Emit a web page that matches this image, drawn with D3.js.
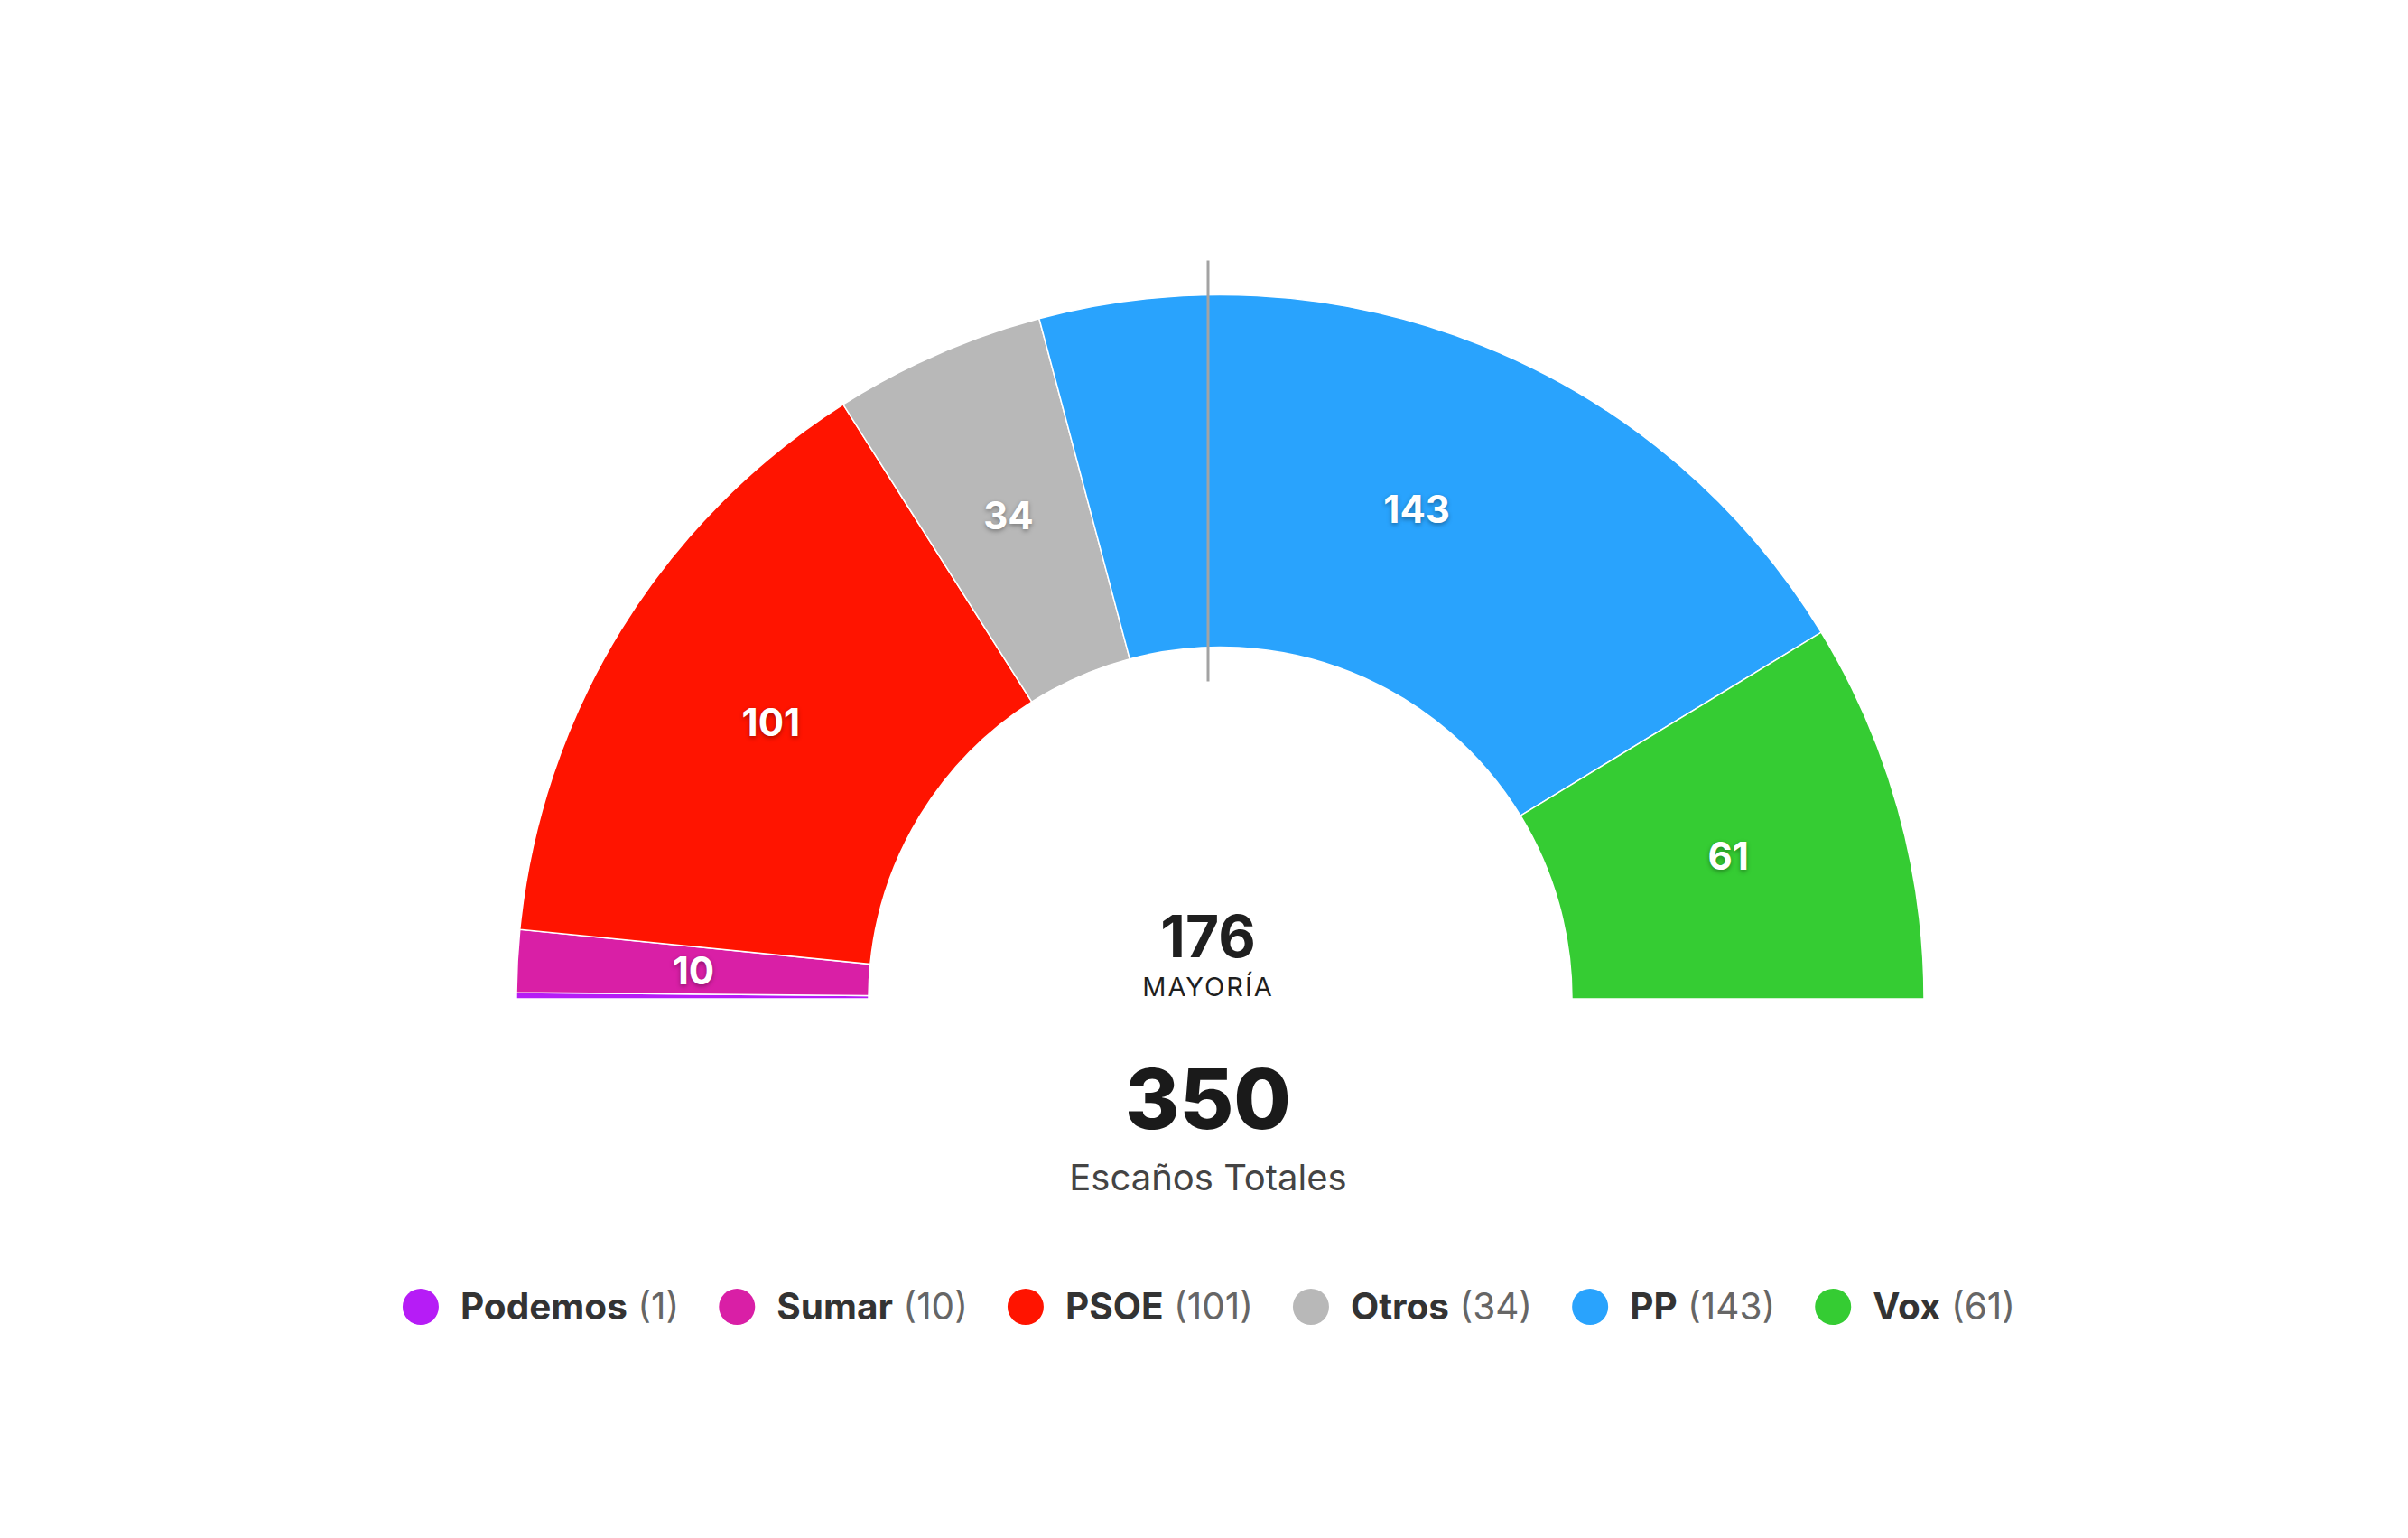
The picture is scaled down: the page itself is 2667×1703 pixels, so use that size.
<!DOCTYPE html>
<html>
<head>
<meta charset="utf-8">
<script src="https://cdn.jsdelivr.net/npm/d3@7"></script>
<style>
  html, body { margin: 0; padding: 0; background: #fff; }
  svg { display: block; font-family: Inter, "Noto Sans", sans-serif; }
  .slice-label { text-shadow: 0 2px 5px rgba(0,0,0,0.35); }
</style>
</head>
<body>
<div id="wrapper"></div>
<script>
const parties = ["Podemos", "Sumar", "PSOE", "Otros", "PP", "Vox"]
const seats = [1, 10, 101, 34, 143, 61]
const colors = ["#b61cf6", "#d91fa6", "#ff1400", "#b8b8b8", "#29a3fd", "#35cc33"]
const majority = 176
const majorityLabel = "MAYORÍA"
const totalLabel = "Escaños Totales"

function drawHemicycle() {
    const dataset = parties.map((name, i) => ({ name, seats: seats[i], color: colors[i] }))
    const total = d3.sum(seats)

    let dimensions = {
        width: 2667,
        height: 1703,
        cx: 1351.5,
        cy: 1106,
        innerRadius: 389.5,
        outerRadius: 779.5,
    }
    // texto central y línea de mayoría algo a la izquierda del centro del arco
    const textX = dimensions.cx - 13.5

    const wrapper = d3.select("#wrapper")
        .append("svg")
        .attr("width", dimensions.width)
        .attr("height", dimensions.height)

    const bounds = wrapper.append("g")
        .attr("transform", `translate(${dimensions.cx}, ${dimensions.cy})`)

    // semicírculo
    const pie = d3.pie()
        .sort(null)
        .value(d => d.seats)
        .startAngle(-Math.PI / 2)
        .endAngle(Math.PI / 2)

    const arcGenerator = d3.arc()
        .innerRadius(dimensions.innerRadius)
        .outerRadius(dimensions.outerRadius)

    const arcs = pie(dataset)

    bounds.selectAll("path.slice")
        .data(arcs)
        .join("path")
        .attr("class", "slice")
        .attr("d", arcGenerator)
        .attr("fill", d => d.data.color)
        .attr("stroke", "#fff")
        .attr("stroke-width", 1.5)

    // etiquetas de escaños
    bounds.selectAll("text.slice-label")
        .data(arcs.filter(d => d.data.seats >= 5))
        .join("text")
        .attr("class", "slice-label")
        .attr("transform", d => `translate(${arcGenerator.centroid(d)})`)
        .attr("text-anchor", "middle")
        .attr("dy", "0.36em")
        .attr("fill", "#fff")
        .attr("font-size", 42)
        .attr("font-weight", 700)
        .text(d => d.data.seats)

    // línea de mayoría
    wrapper.append("line")
        .attr("x1", textX).attr("x2", textX)
        .attr("y1", dimensions.cy - dimensions.outerRadius - 38)
        .attr("y2", dimensions.cy - dimensions.innerRadius + 38)
        .attr("stroke", "#a3a3a3")
        .attr("stroke-width", 3)

    // textos centrales
    const center = wrapper.append("g")
        .attr("text-anchor", "middle")

    center.append("text")
        .attr("x", textX).attr("y", 1060)
        .attr("font-size", 64)
        .attr("font-weight", 700)
        .attr("fill", "#1f1f1f")
        .text(majority)

    center.append("text")
        .attr("x", textX).attr("y", 1103)
        .attr("font-size", 29)
        .attr("letter-spacing", 2)
        .attr("fill", "#1f1f1f")
        .text(majorityLabel)

    center.append("text")
        .attr("x", textX).attr("y", 1250)
        .attr("font-size", 92)
        .attr("font-weight", 800)
        .attr("fill", "#1a1a1a")
        .text(total)

    center.append("text")
        .attr("x", textX).attr("y", 1318)
        .attr("font-size", 40)
        .attr("fill", "#444")
        .text(totalLabel)

    // leyenda
    const legend = wrapper.append("g")
    const items = legend.selectAll("g")
        .data(dataset)
        .join("g")

    items.append("circle")
        .attr("r", 20)
        .attr("cx", 20)
        .attr("cy", 1447)
        .attr("fill", d => d.color)

    const labels = items.append("text")
        .attr("x", 64)
        .attr("y", 1461)
        .attr("font-size", 40.5)

    labels.append("tspan")
        .attr("font-weight", 700)
        .attr("fill", "#333")
        .text(d => d.name)
    labels.append("tspan")
        .attr("fill", "#666")
        .text(d => ` (${d.seats})`)

    const widths = []
    items.each(function() {
        widths.push(64 + d3.select(this).select("text").node().getComputedTextLength())
    })
    const gap = 44
    const totalWidth = d3.sum(widths) + gap * (widths.length - 1)
    let offset = 1339 - totalWidth / 2
    items.attr("transform", (d, i) => {
        const x = offset
        offset += widths[i] + gap
        return `translate(${x}, 0)`
    })
}

drawHemicycle()
</script>
</body>
</html>
